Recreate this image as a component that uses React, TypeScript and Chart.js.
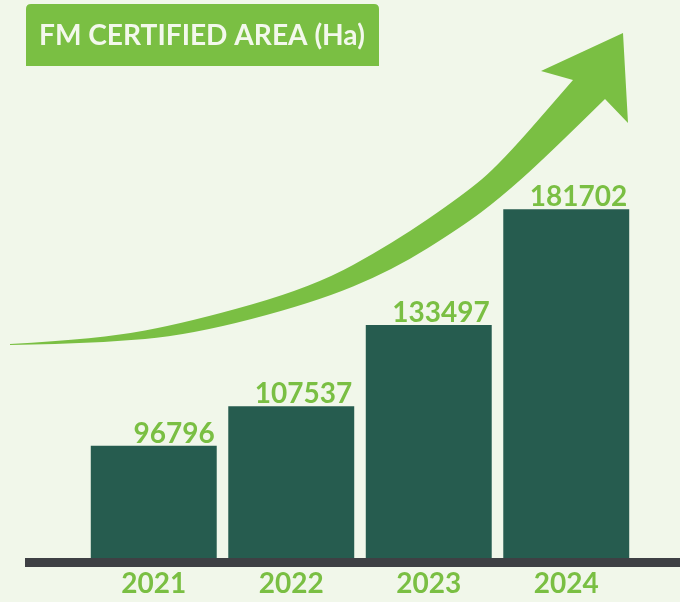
import React, { useEffect, useRef } from "react";
import { Chart, registerables } from "chart.js";

Chart.register(...registerables);

// ---- data ----
const categories = ["2021", "2022", "2023", "2024"];
const areaValues = [96796, 107537, 133497, 181702];
const titleText = "FM CERTIFIED AREA (Ha)";

// ---- styles ----
const BG = "#f1f7ea";
const GREEN = "#7abf43";
const BAR = "#265c4f";
const BASE = "#3e4044";
const TITLE_TXT = "#f3f8ec";
const FONT = "Lato, 'Open Sans', sans-serif";

// decorative arrow geometry (canvas px)
const arrowUpper: [number, number][] = [
  [10, 344], [100, 339], [190, 322], [313, 287], [393, 243], [463, 195], [500, 164], [573, 80],
];
const arrowHead: [number, number][] = [[541, 71], [623, 33], [628, 123], [605, 99]];
const arrowLower: [number, number][] = [
  [605, 99], [545, 158], [500, 198], [463, 226], [393, 270], [313, 303], [190, 335], [100, 343], [10, 345],
];

function smoothThrough(ctx: CanvasRenderingContext2D, pts: [number, number][], first: boolean) {
  if (first) ctx.moveTo(pts[0][0], pts[0][1]);
  else ctx.lineTo(pts[0][0], pts[0][1]);
  for (let i = 1; i < pts.length - 1; i++) {
    const mx = (pts[i][0] + pts[i + 1][0]) / 2;
    const my = (pts[i][1] + pts[i + 1][1]) / 2;
    ctx.quadraticCurveTo(pts[i][0], pts[i][1], mx, my);
  }
  const l = pts[pts.length - 1];
  ctx.lineTo(l[0], l[1]);
}

const decorPlugin = {
  id: "decor",
  beforeDraw(chart: any) {
    const ctx = chart.ctx as CanvasRenderingContext2D;
    ctx.save();
    ctx.fillStyle = BG;
    ctx.fillRect(0, 0, chart.width, chart.height);

    // title box
    const bx = 26, by = 4, bw = 353, bh = 62, r = 5;
    ctx.fillStyle = GREEN;
    ctx.beginPath();
    ctx.moveTo(bx, by + bh);
    ctx.lineTo(bx, by + r);
    ctx.quadraticCurveTo(bx, by, bx + r, by);
    ctx.lineTo(bx + bw - r, by);
    ctx.quadraticCurveTo(bx + bw, by, bx + bw, by + r);
    ctx.lineTo(bx + bw, by + bh);
    ctx.closePath();
    ctx.fill();

    let size = 26;
    ctx.font = `bold ${size}px ${FONT}`;
    const w = ctx.measureText(titleText).width;
    size = Math.max(20, Math.min(30, size * 326 / w));
    ctx.font = `bold ${size}px ${FONT}`;
    ctx.fillStyle = TITLE_TXT;
    ctx.textAlign = "left";
    ctx.textBaseline = "alphabetic";
    ctx.fillText(titleText, 39, 45, 328);

    // arrow
    ctx.fillStyle = GREEN;
    ctx.beginPath();
    smoothThrough(ctx, arrowUpper, true);
    for (const p of arrowHead) ctx.lineTo(p[0], p[1]);
    smoothThrough(ctx, arrowLower, false);
    ctx.closePath();
    ctx.fill();
    ctx.restore();
  },
  afterDatasetsDraw(chart: any) {
    const ctx = chart.ctx as CanvasRenderingContext2D;
    const area = chart.chartArea;
    ctx.save();
    // baseline
    ctx.fillStyle = BASE;
    ctx.fillRect(25, area.bottom, chart.width - 25, 9);
    // value labels
    const meta = chart.getDatasetMeta(0);
    ctx.font = `bold 28px ${FONT}`;
    ctx.fillStyle = GREEN;
    ctx.textAlign = "right";
    ctx.textBaseline = "alphabetic";
    meta.data.forEach((bar: any, i: number) => {
      const v = chart.data.datasets[0].data[i];
      ctx.fillText(String(v), bar.x + bar.width / 2 - 2, bar.y - 3);
    });
    ctx.restore();
  },
};

export default function App() {
  const ref = useRef<HTMLCanvasElement | null>(null);
  useEffect(() => {
    if (!ref.current) return;
    const chart = new Chart(ref.current, {
      type: "bar",
      data: {
        labels: categories,
        datasets: [
          {
            data: areaValues,
            backgroundColor: BAR,
            borderWidth: 0,
            categoryPercentage: 1,
            barPercentage: 0.916,
          },
        ],
      },
      options: {
        animation: false,
        responsive: false,
        maintainAspectRatio: false,
        layout: { padding: { top: 100, left: 85, right: 45, bottom: 0 } },
        plugins: {
          legend: { display: false },
          title: { display: false },
          tooltip: { enabled: false },
        },
        scales: {
          x: {
            grid: { display: false, drawTicks: false },
            border: { display: false },
            afterFit: (scale: any) => {
              scale.height = 44;
            },
            ticks: {
              color: GREEN,
              padding: 9,
              font: { family: FONT, size: 28, weight: "bold" },
            },
          },
          y: {
            type: "logarithmic",
            display: false,
            min: 71800,
            max: 243000,
          },
        },
      },
      plugins: [decorPlugin],
    });
    return () => chart.destroy();
  }, []);
  return (
    <div style={{ position: "fixed", left: 0, top: 0, width: 680, height: 602, background: BG }}>
      <canvas ref={ref} width={680} height={602} style={{ display: "block", width: 680, height: 602 }} />
    </div>
  );
}
